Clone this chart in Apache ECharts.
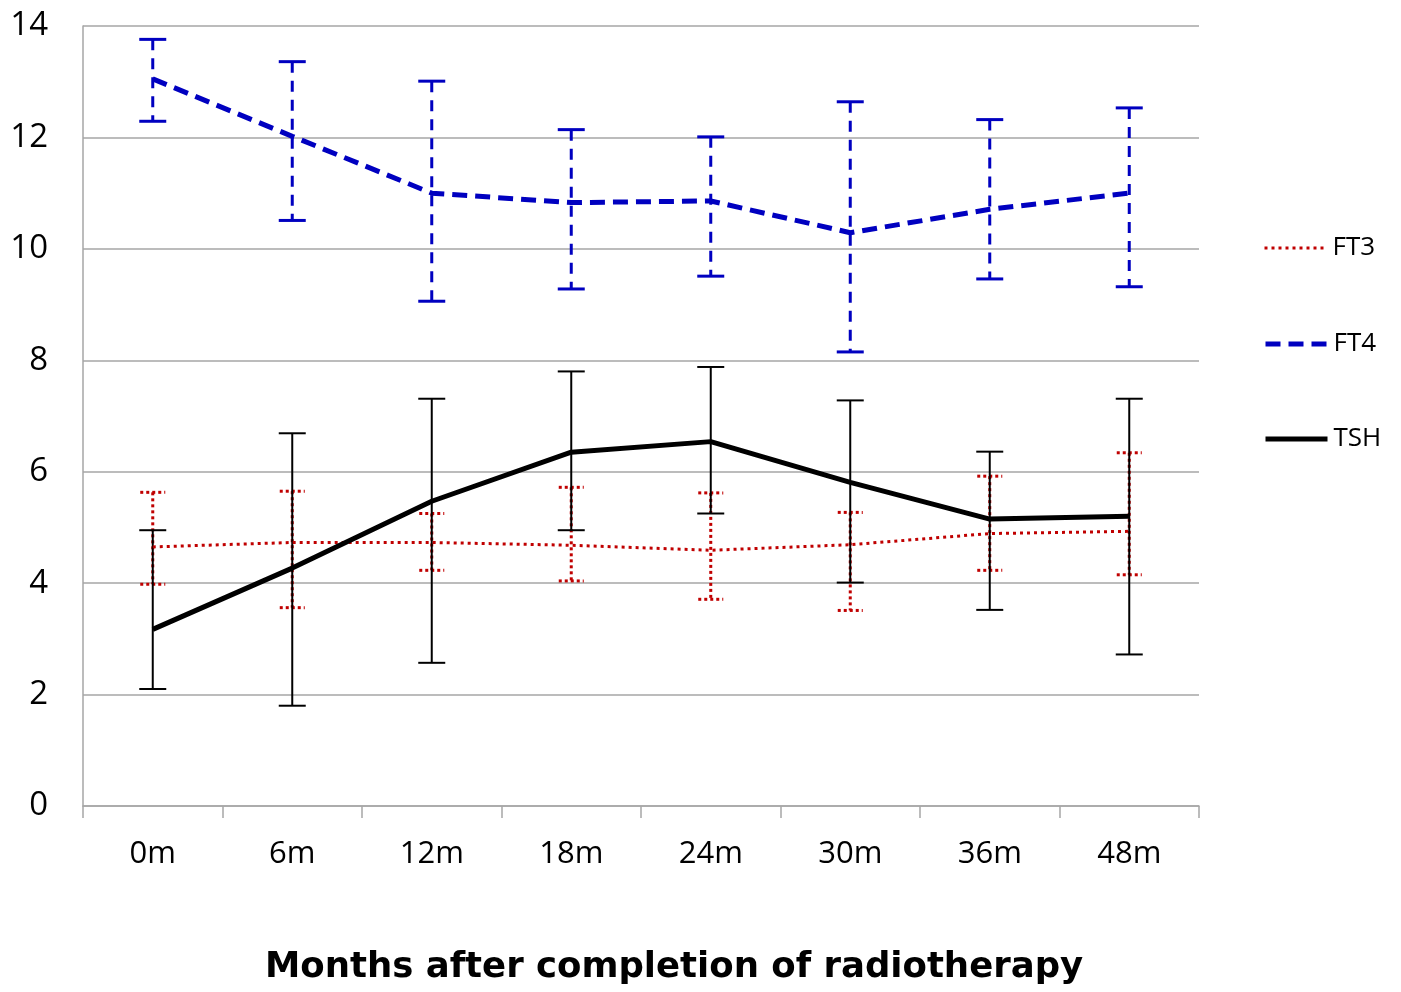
<!DOCTYPE html>
<html><head><meta charset="utf-8">
<script src="https://cdn.jsdelivr.net/npm/echarts@6/dist/echarts.min.js"></script>
<style>html,body{margin:0;padding:0;background:#fff}#c{width:1401px;height:992px}</style>
</head><body><div id="c"></div>
<script>
const categories = ['0m','6m','12m','18m','24m','30m','36m','48m'];
const ft3Mean = [4.65, 4.73, 4.73, 4.68, 4.59, 4.69, 4.89, 4.93];
const ft3Upper = [5.63, 5.65, 5.25, 5.72, 5.62, 5.27, 5.92, 6.34];
const ft3Lower = [3.98, 3.56, 4.23, 4.04, 3.71, 3.51, 4.23, 4.15];
const ft4Mean = [13.05, 12.02, 11.0, 10.83, 10.86, 10.29, 10.71, 11.0];
const ft4Upper = [13.76, 13.36, 13.01, 12.14, 12.01, 12.64, 12.32, 12.53];
const ft4Lower = [12.29, 10.51, 9.06, 9.28, 9.51, 8.15, 9.46, 9.32];
const tshMean = [3.17, 4.27, 5.47, 6.35, 6.54, 5.81, 5.15, 5.20];
const tshUpper = [4.95, 6.69, 7.31, 7.80, 7.88, 7.28, 6.36, 7.31];
const tshLower = [2.10, 1.80, 2.57, 4.95, 5.25, 4.01, 3.52, 2.72];
const yTicks = [0, 2, 4, 6, 8, 10, 12, 14];
const seriesNames = ['FT3', 'FT4', 'TSH'];
const xTitle = 'Months after completion of radiotherapy';

const FONT = 'Open Sans';
const chart = echarts.init(document.getElementById('c'));

const FT3_LINE = { color: '#c00000', width: 3, type: [3, 4] };
const FT4_LINE = { color: '#0000c0', width: 5, type: [15, 8] };
const TSH_LINE = { color: '#000000', width: 5, type: 'solid' };
const LINES = [FT3_LINE, FT4_LINE, TSH_LINE];

function errSeries(name, lower, upper, color, width, dash, capDash, capW) {
  return {
    type: 'custom', name: name, z: 3,
    data: categories.map((c, i) => [i, lower[i], upper[i]]),
    renderItem: function (params, api) {
      const lo = api.coord([api.value(0), api.value(1)]);
      const hi = api.coord([api.value(0), api.value(2)]);
      const st = { stroke: color, lineWidth: width, lineDash: dash, fill: null };
      const cst = { stroke: color, lineWidth: width, lineDash: capDash, fill: null };
      return {
        type: 'group',
        children: [
          { type: 'line', shape: { x1: hi[0], y1: hi[1], x2: lo[0], y2: lo[1] }, style: st },
          { type: 'line', shape: { x1: hi[0] - capW / 2, y1: hi[1], x2: hi[0] + capW / 2, y2: hi[1] }, style: cst },
          { type: 'line', shape: { x1: lo[0] - capW / 2, y1: lo[1], x2: lo[0] + capW / 2, y2: lo[1] }, style: cst }
        ]
      };
    }
  };
}

const legendTops = [249, 345, 440];
chart.setOption({
  animation: false,
  backgroundColor: '#fff',
  grid: { left: 83, right: 202, top: 26, bottom: 186, containLabel: false },
  graphic: [{
    type: 'text', left: 265, top: 950,
    style: { text: xTitle, fontFamily: 'DejaVu Sans', fontSize: 35.5, fontWeight: 'bold', fill: '#000' }
  }],
  legend: seriesNames.map((n, i) => ({
    orient: 'vertical', left: 1263, top: legendTops[i] - 14, padding: 0,
    itemWidth: 62, itemHeight: 14,
    data: [n],
    itemStyle: { opacity: 0 },
    lineStyle: LINES[i],
    textStyle: { fontFamily: FONT, fontSize: 26, color: '#000', padding: [0, 0, 0, 1] }
  })),
  xAxis: {
    type: 'category', data: categories, boundaryGap: true,
    axisLine: { lineStyle: { color: '#a6a6a6', width: 1.5 } },
    axisTick: { show: true, length: 12, lineStyle: { color: '#a6a6a6', width: 1.5 } },
    axisLabel: { fontFamily: FONT, fontSize: 31, color: '#000', margin: 33 },
    splitLine: { show: false }
  },
  yAxis: {
    type: 'value', min: 0, max: 14, interval: 2,
    axisLine: { show: true, lineStyle: { color: '#a6a6a6', width: 1.5 } },
    axisTick: { show: false },
    axisLabel: { fontFamily: FONT, fontSize: 33, color: '#000', margin: 35,
      formatter: v => yTicks.includes(v) ? String(v) : '' },
    splitLine: { lineStyle: { color: '#a6a6a6', width: 1.5 } }
  },
  series: [
    errSeries('FT3 err', ft3Lower, ft3Upper, '#c00000', 3, [3, 3], [3, 3], 25),
    errSeries('FT4 err', ft4Lower, ft4Upper, '#0000c0', 3, [11, 8], null, 27),
    errSeries('TSH err', tshLower, tshUpper, '#000000', 2, null, null, 27),
    { name: seriesNames[0], type: 'line', data: ft3Mean, symbol: 'none', z: 4,
      lineStyle: FT3_LINE, itemStyle: { color: '#c00000' } },
    { name: seriesNames[1], type: 'line', data: ft4Mean, symbol: 'none', z: 4,
      lineStyle: FT4_LINE, itemStyle: { color: '#0000c0' } },
    { name: seriesNames[2], type: 'line', data: tshMean, symbol: 'none', z: 5,
      lineStyle: TSH_LINE, itemStyle: { color: '#000' } }
  ]
});
</script></body></html>
